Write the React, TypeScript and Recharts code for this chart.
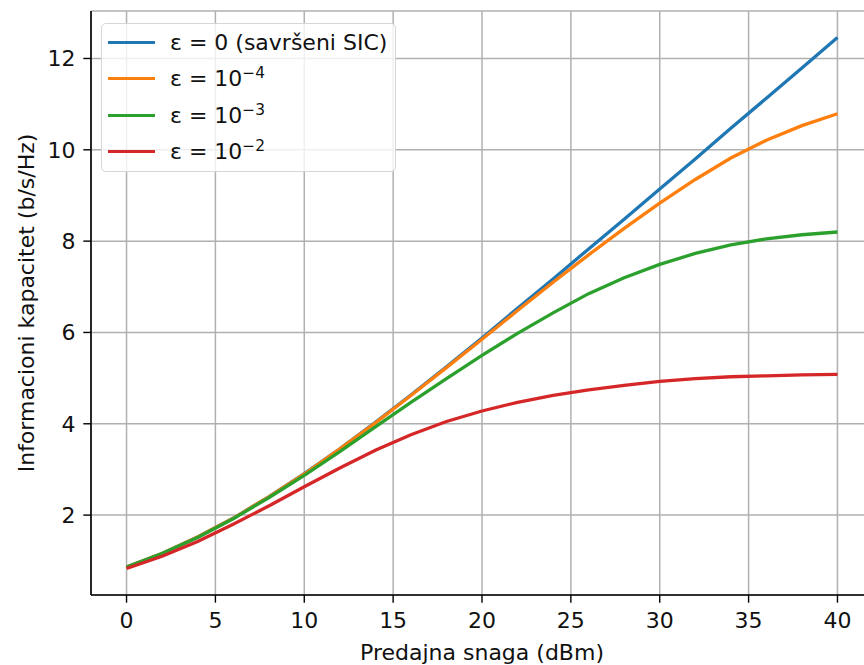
import React from "react";
import {
  LineChart,
  Line,
  XAxis,
  YAxis,
  CartesianGrid,
  Legend
} from "recharts";

// Transmit power (dBm) and capacity (b/s/Hz)
const powerDbm = [0, 2, 4, 6, 8, 10, 12, 14, 16, 18, 20, 22, 24, 26, 28, 30, 32, 34, 36, 38, 40];

const capPerfect = [0.86, 1.16, 1.52, 1.93, 2.40, 2.91, 3.45, 4.03, 4.63, 5.25, 5.88, 6.53, 7.17, 7.83, 8.48, 9.14, 9.80, 10.47, 11.13, 11.79, 12.46];
const capEps4 = [0.86, 1.16, 1.52, 1.93, 2.40, 2.90, 3.45, 4.02, 4.62, 5.23, 5.85, 6.48, 7.10, 7.70, 8.28, 8.83, 9.35, 9.82, 10.21, 10.53, 10.79];
const capEps3 = [0.86, 1.16, 1.51, 1.92, 2.38, 2.87, 3.39, 3.93, 4.47, 4.99, 5.50, 5.98, 6.43, 6.85, 7.20, 7.49, 7.73, 7.92, 8.05, 8.14, 8.20];
const capEps2 = [0.83, 1.10, 1.42, 1.80, 2.20, 2.62, 3.03, 3.42, 3.76, 4.05, 4.28, 4.47, 4.62, 4.74, 4.84, 4.93, 4.99, 5.03, 5.05, 5.07, 5.08];

const xTicks = [0, 5, 10, 15, 20, 25, 30, 35, 40];
const yTicks = [2, 4, 6, 8, 10, 12];

const series = [
  { key: "perfect", color: "#1f77b4", values: capPerfect, base: "0 (savršeni SIC)", exp: "" },
  { key: "eps4", color: "#ff7f0e", values: capEps4, base: "10", exp: "−4" },
  { key: "eps3", color: "#2ca02c", values: capEps3, base: "10", exp: "−3" },
  { key: "eps2", color: "#d62728", values: capEps2, base: "10", exp: "−2" }
];

const data = powerDbm.map((p, i) => {
  const row: Record<string, number> = { p };
  series.forEach((s) => {
    row[s.key] = s.values[i];
  });
  return row;
});

const FONT = "'DejaVu Sans', sans-serif";
const tickStyle = { fontFamily: FONT, fontSize: 22, fill: "#111" };

function LegendBox() {
  return (
    <div
      style={{
        width: 295,
        height: 149,
        boxSizing: "border-box",
        border: "1.5px solid #d6d6d6",
        borderRadius: 5,
        background: "rgba(255,255,255,0.8)",
        fontFamily: FONT,
        fontSize: 22,
        color: "#111",
        paddingTop: 0
      }}
    >
      {series.map((s) => (
        <div key={s.key} style={{ display: "flex", alignItems: "center", height: 36.5 }}>
          <div style={{ marginLeft: 6, width: 47, height: 3.3, background: s.color }} />
          <span style={{ marginLeft: 15, whiteSpace: "nowrap" }}>
            ε = {s.base}
            {s.exp && (
              <sup style={{ fontSize: "0.7em", verticalAlign: "0.55em", lineHeight: 0 }}>{s.exp}</sup>
            )}
          </span>
        </div>
      ))}
    </div>
  );
}

export default function App() {
  return (
    <div style={{ position: "absolute", left: 0, top: 0, width: 864, height: 665, overflow: "hidden", background: "#fff" }}>
      <LineChart width={900} height={665} data={data} margin={{ top: 11, right: 27, left: 0, bottom: 0 }}>
        <CartesianGrid stroke="#b0b0b0" strokeWidth={1.5} />
        <XAxis
          dataKey="p"
          type="number"
          domain={[-2, 42]}
          ticks={xTicks}
          height={70}
          tick={tickStyle}
          tickSize={7.7}
          tickMargin={10}
          stroke="#000"
          axisLine={{ stroke: "#000", strokeWidth: 1.6 }}
          tickLine={{ stroke: "#000", strokeWidth: 1.4 }}
          label={{
            content: () => (
              <text x={482} y={660} textAnchor="middle" fontFamily={FONT} fontSize={22} fill="#111">
                Predajna snaga (dBm)
              </text>
            )
          }}
        />
        <XAxis
          xAxisId="top"
          orientation="top"
          dataKey="p"
          type="number"
          domain={[-2, 42]}
          height={0}
          tick={false}
          tickLine={false}
          axisLine={{ stroke: "#000", strokeWidth: 1.6 }}
        />
        <YAxis
          type="number"
          domain={[0.25, 13.04]}
          ticks={yTicks}
          width={91}
          tick={tickStyle}
          tickSize={7.7}
          tickMargin={7.7}
          axisLine={{ stroke: "#000", strokeWidth: 1.6 }}
          tickLine={{ stroke: "#000", strokeWidth: 1.4 }}
          label={{
            content: () => (
              <text
                x={34}
                y={303}
                transform="rotate(-90 34 303)"
                textAnchor="middle"
                fontFamily={FONT}
                fontSize={22}
                fill="#111"
              >
                Informacioni kapacitet (b/s/Hz)
              </text>
            )
          }}
        />
        {series.map((s) => (
          <Line
            key={s.key}
            type="linear"
            dataKey={s.key}
            stroke={s.color}
            strokeWidth={3.3}
            dot={false}
            activeDot={false}
            isAnimationActive={false}
          />
        ))}
        <Legend
          layout="vertical"
          align="center"
          verticalAlign="middle"
          content={() => <LegendBox />}
          wrapperStyle={{ left: 101, top: 23, width: 295, height: 149 }}
        />
      </LineChart>
    </div>
  );
}
